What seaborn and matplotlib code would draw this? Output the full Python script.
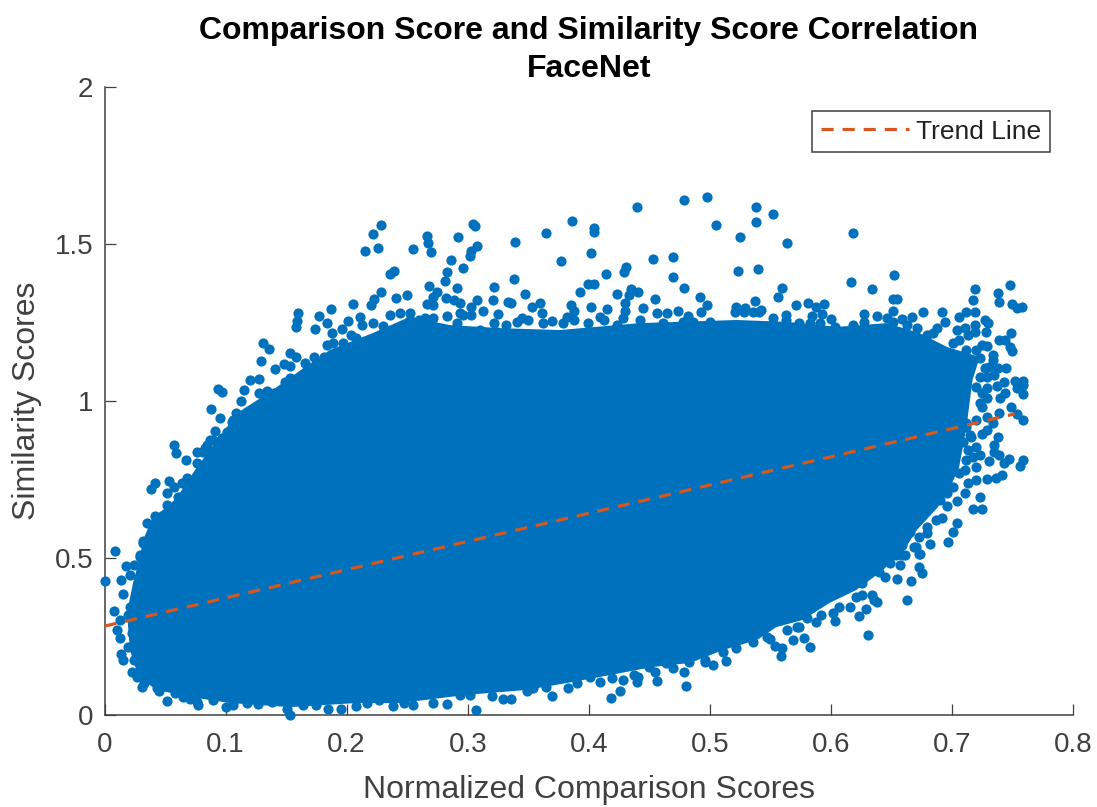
import matplotlib
matplotlib.use("Agg")
import matplotlib.pyplot as plt
import pandas as pd
import seaborn as sns

BLUE = "#0072BD"
ORANGE = "#D4581F"
GREY = "#404040"

# Outline of the solid, saturated core of the scatter
core_x = [.0186,.0235,.0293,.0318,.040,.0516,.060,.0764,.098,.109,.137,.159,.186,.222,.252,.285,.327,.376,.442,.522,.564,.605,.646,.673,.696,.723,.717,.712,.706,.698,.688,.671,.659,.640,.621,.599,.577,.555,.539,.511,.484,.453,.409,.382,.349,.299,.244,.208,.153,.104,.071,.043,.028,.021]
core_y = [.325,.420,.503,.557,.631,.662,.694,.790,.900,.960,1.030,1.090,1.162,1.217,1.268,1.242,1.232,1.226,1.248,1.258,1.252,1.236,1.248,1.217,1.172,1.140,1.067,.917,.790,.720,.660,.589,.516,.452,.398,.357,.303,.280,.239,.207,.166,.153,.121,.102,.080,.064,.038,.038,.025,.038,.057,.080,.121,.207]

# Individually visible points around the core
pts_x = [.228,.222,.226,.215,.239,.236,.228,.223,.241,.250,.220,.205,.187,.177,.160,.159,.158,.174,.184,.188,.196,.201,.211,.204,.131,.136,.129,.153,.158,.141,.148,.153,.166,.173,.120,.128,.094,.097,.115,.128,.134,.140,.113,.088,.095,.106,.091,.087,.083,.057,.059,.076,.067,.042,.038,.053,.057,.052,.064,
         .255,.266,.267,.270,.292,.304,.306,.308,.303,.302,.286,.296,.283,.281,.268,.291,.275,.271,.282,.266,.339,.365,.386,.404,.404,.402,.377,.440,.479,.498,.505,.453,.470,.431,.429,.414,.470,.338,.322,.479,.399,.404,.393,.347,.423,.435,.441,.433,.455,.492,.308,.321,.333,.336,.360,.353,.385,.388,.402,.415,.430,.430,.445,.498,.493,.456,.465,.474,.361,.325,.303,.313,.294,.283,.370,.345,.382,.409,.428,.482,.271,.265,.252,
         .523,.540,.560,.556,.537,.522,.571,.581,.594,.588,.593,.563,.584,.600,.617,.634,.652,.651,.655,.651,.627,.638,.659,.676,.667,.692,.694,.688,.684,.719,.717,.738,.739,.748,.750,.758,.754,.719,.712,.706,.727,.730,.728,.719,.719,.704,.711,.713,.749,.739,.744,.748,.750,.729,.734,.734,.727,.738,.745,.735,.743,.752,.759,.759,.754,.737,.759,.744,.740,.729,.729,.725,.749,.739,.754,.759,.734,.729,.725,.738,.712,.716,.735,.735,.739,.723,.713,.731,.747,.743,.759,.756,.720,.711,.741,.729,.736,.720,.713,.711,.723,.704,.696,.717,.725,.692,.687,.704,.701,.697,.682,.673,.669,.673,.679,.661,.654,.657,
         .009,.000,.015,.008,.014,.018,.029,.013,.010,.013,.014,.015,.023,.031,.045,.052,.058,.071,.077,.100,.127,.151,.153,.185,.195,.208,.238,.035,.042,.032,.052,
         .255,.271,.283,.307,.320,.329,.336,.349,.370,.383,.409,.418,.426,.419,.428,.440,.441,.456,.455,.470,.479,.480,.496,.503,
         .538,.552,.538,.525,.564,.618,.529,.542,
         .631,.663,.623,.629,.583,.578,.559,.560,.554,.569,.513,.603,.588,.638,.616,.607,.666,.655,.645,.675,.673,.674,.670,.572,.550,.626]
pts_y = [1.561,1.532,1.487,1.478,1.414,1.404,1.347,1.325,1.328,1.338,1.306,1.309,1.293,1.271,1.280,1.255,1.236,1.229,1.248,1.217,1.229,1.255,1.268,1.210,1.185,1.166,1.127,1.153,1.140,1.102,1.118,1.111,1.121,1.140,1.067,1.070,1.038,1.029,1.035,1.025,1.032,1.025,1.000,.975,.946,.939,.904,.876,.850,.860,.834,.838,.812,.739,.720,.745,.726,.707,.739,
         1.484,1.525,1.503,1.475,1.522,1.564,1.557,1.494,1.478,1.462,1.449,1.424,1.411,1.382,1.366,1.360,1.347,1.331,1.328,1.309,1.506,1.535,1.573,1.551,1.538,1.471,1.446,1.618,1.640,1.650,1.561,1.452,1.459,1.427,1.411,1.404,1.395,1.389,1.363,1.360,1.373,1.373,1.347,1.341,1.341,1.357,1.347,1.338,1.325,1.331,1.322,1.322,1.315,1.312,1.312,1.299,1.306,1.287,1.299,1.293,1.312,1.287,1.296,1.306,1.283,1.280,1.280,1.287,1.280,1.277,1.299,1.287,1.312,1.271,1.255,1.264,1.268,1.268,1.264,1.271,1.264,1.264,1.280,
         1.414,1.420,1.360,1.331,1.318,1.299,1.306,1.312,1.309,1.299,1.277,1.274,1.271,1.261,1.379,1.357,1.401,1.325,1.325,1.287,1.277,1.271,1.261,1.283,1.268,1.283,1.252,1.232,1.217,1.357,1.322,1.344,1.315,1.369,1.309,1.299,1.296,1.283,1.283,1.268,1.258,1.248,1.220,1.242,1.220,1.226,1.232,1.210,1.217,1.194,1.194,1.172,1.159,1.175,1.146,1.131,1.105,1.105,1.105,1.083,1.061,1.064,1.064,1.051,1.041,1.048,1.022,1.025,1.010,1.041,1.010,.981,.981,.962,.959,.939,.930,.908,.895,.885,.917,.885,.860,.838,.828,.828,.844,.809,.815,.803,.812,.793,.790,.780,.764,.752,.755,.748,.739,.707,.694,.682,.666,.656,.656,.627,.621,.611,.583,.551,.545,.513,.535,.567,.580,.510,.510,.548,
         .522,.427,.385,.331,.430,.475,.503,.303,.271,.245,.194,.175,.137,.089,.076,.045,.070,.051,.032,.025,.035,.019,.000,.019,.019,.029,.029,.611,.634,.554,.669,
         .032,.038,.035,.016,.061,.051,.051,.076,.061,.086,.105,.054,.076,.118,.111,.105,.121,.108,.137,.150,.137,.092,.169,.159,
         1.618,1.595,1.570,1.522,1.503,1.535,1.296,1.290,
         .255,.366,.315,.338,.217,.245,.188,.213,.220,.239,.172,.299,.296,.360,.344,.344,.427,.433,.439,.452,.471,.513,.535,.280,.242,.420]

# Merged points along the rim of the core
rim_x = [.236,.244,.222,.213,.230,.208,.197,.189,.184,.181,.178,.167,.153,.149,.151,.126,.118,.109,.105,.101,.097,.090,.085,.081,.093,.076,.081,.068,.061,
         .040,.032,.029,.024,.021,.021,.019,.023,.019,.024,.027,.033,.043,
         .065,.076,.090,.106,.118,.138,.164,.175,.217,.227,.247,.294,.302,.354,.365,.390,.401,.437,.450,.464,.483,
         .496,.511,.522,.536,.547,.564,.574,.580,.592,.602,.621,.626,.634,.636,.640,.649,.657,.659,.659,.665,
         .679,.690,.696,.701,.706,.701,.712,.717,.720,.709,.715,.712,.720,.729,.723,.725,.720,.729,.723,.731,.723,.720,.712,.725,.706,.701,
         .679,.671,.663,.651,.646,.627,.618,.603,.591,.583,.574,.563,.552,.541,.536,.528,.521,
         .500,.486,.478,.461,.442,.423,.413,.399,.388,.379,.362,.350,.341,.332,.322,.324,.310,.303,.296,.291,.280,.260,.252,.294,.289,.271]
rim_y = [1.274,1.280,1.248,1.242,1.239,1.200,1.185,1.185,1.178,1.140,1.099,1.099,1.073,1.061,1.035,.981,.965,.962,.933,.901,.882,.876,.860,.838,.812,.803,.796,.755,.694,
         .596,.548,.510,.478,.446,.344,.318,.261,.217,.175,.121,.102,.086,
         .057,.041,.048,.032,.038,.041,.032,.032,.038,.048,.038,.064,.064,.086,.089,.102,.121,.127,.153,.166,.169,
         .175,.201,.213,.232,.248,.271,.280,.309,.318,.325,.376,.382,.382,.366,.455,.484,.478,.510,.541,.583,
         .599,.685,.707,.726,.771,.812,.812,.822,.854,.869,.892,.930,.939,.949,.994,1.025,1.045,1.076,1.076,1.108,1.137,1.162,1.162,1.178,1.194,1.185,
         1.210,1.232,1.242,1.252,1.264,1.252,1.242,1.236,1.248,1.248,1.248,1.258,1.264,1.283,1.283,1.283,1.283,
         1.252,1.252,1.252,1.248,1.258,1.242,1.258,1.248,1.258,1.248,1.248,1.258,1.252,1.242,1.248,1.220,1.226,1.274,1.274,1.248,1.226,1.258,1.258,1.280,1.322,1.306]

# Trend line end points
trend_x = [0.0, 0.752]
trend_y = [0.283, 0.959]

x_ticks = [0, .1, .2, .3, .4, .5, .6, .7, .8]
x_labels = ["0", "0.1", "0.2", "0.3", "0.4", "0.5", "0.6", "0.7", "0.8"]
y_ticks = [0, .5, 1, 1.5, 2]
y_labels = ["0", "0.5", "1", "1.5", "2"]

sns.set_theme(style="ticks")
plt.rcParams["font.family"] = ["Liberation Sans", "DejaVu Sans"]

W, H = 1097, 807
fig = plt.figure(figsize=(W / 100, H / 100), dpi=100)
ax = fig.add_axes([104.5 / W, 1 - 715 / H, (1073 - 104.5) / W, (715 - 87) / H])

ax.fill(core_x, core_y, color=BLUE, lw=0, zorder=2)
scatter_df = pd.DataFrame({"x": pts_x + rim_x, "y": pts_y + rim_y})
sns.scatterplot(data=scatter_df, x="x", y="y", ax=ax,
                color=BLUE, s=54, linewidth=0, zorder=3, clip_on=False, legend=False)
sns.lineplot(data=pd.DataFrame({"x": trend_x, "y": trend_y}), x="x", y="y", ax=ax,
             color=ORANGE, lw=2.3, dashes=(3.8, 2.8), zorder=4, label="Trend Line",
             errorbar=None)

ax.set_xlim(0, 0.8)
ax.set_ylim(0, 2)
ax.set_xticks(x_ticks, x_labels)
ax.set_yticks(y_ticks, y_labels)
ax.tick_params(direction="in", length=8, width=0.9, color=GREY, labelcolor=GREY, labelsize=20)
ax.tick_params(axis="x", pad=12.5)
ax.tick_params(axis="y", pad=8)
ax.spines[["top", "right"]].set_visible(False)
ax.spines[["left", "bottom"]].set_color(GREY)
ax.spines[["left", "bottom"]].set_linewidth(1.1)
ax.set_xlabel("Normalized Comparison Scores", fontsize=23, color=GREY, labelpad=12)
ax.set_ylabel("Similarity Scores", fontsize=23, color=GREY, labelpad=9)
ax.set_title("Comparison Score and Similarity Score Correlation\nFaceNet",
             fontsize=23, fontweight="bold", color="black", pad=7, linespacing=1.36)

leg = ax.legend(loc="upper left", bbox_to_anchor=((812 - 104.5) / (1073 - 104.5), (715 - 111) / 628),
                fontsize=19, fancybox=False, framealpha=1, edgecolor=GREY,
                borderaxespad=0, handlelength=3.35, handletextpad=0.27, borderpad=0.33)
leg.get_frame().set_linewidth(1.1)
for t in leg.get_texts():
    t.set_color("#222222")

fig.savefig("out.png", dpi=100)
